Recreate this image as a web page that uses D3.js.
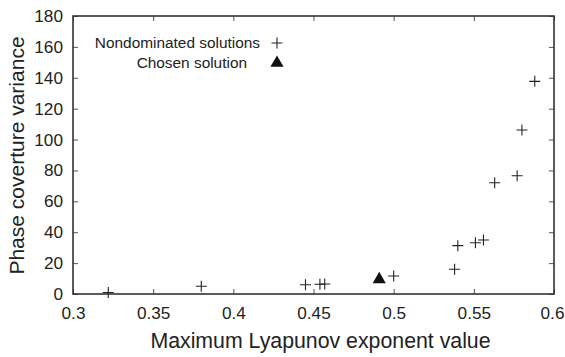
<!DOCTYPE html>
<html><head><meta charset="utf-8">
<script src="https://cdn.jsdelivr.net/npm/d3@7"></script>
<style>body{margin:0;background:#fff}svg{display:block}text{font-family:"Liberation Sans",Arial,sans-serif;fill:#222}</style>
</head><body><svg id="c" width="565" height="357"></svg>
<script>
const lyapunov = [0.322,0.380,0.445,0.454,0.457,0.500,0.538,0.540,0.551,0.556,0.563,0.577,0.580,0.588];
const variance = [1,5,6,6.3,6.5,11.7,16,31.3,33.2,35,72,76.6,106.2,137.7];
const chosenX = [0.491];
const chosenY = [9.5];
const xTicks = [0.3,0.35,0.4,0.45,0.5,0.55,0.6];
const yTicks = [0,20,40,60,80,100,120,140,160,180];
const legendLabels = ["Nondominated solutions","Chosen solution"];

const svg = d3.select("#c");
const L=73,R=554,T=16,B=294;
const x = d3.scaleLinear().domain([0.3,0.6]).range([L,R]);
const y = d3.scaleLinear().domain([0,180]).range([B,T]);
const fmt = d => String(d);

const xb = svg.append("g").attr("transform",`translate(0,${B})`)
  .call(d3.axisBottom(x).tickValues(xTicks).tickFormat(fmt).tickSizeInner(-5).tickSizeOuter(0).tickPadding(13));
svg.append("g").attr("transform",`translate(0,${T})`)
  .call(d3.axisTop(x).tickValues(xTicks).tickFormat("").tickSizeInner(-5).tickSizeOuter(0));
svg.append("g").attr("transform",`translate(${L},0)`)
  .call(d3.axisLeft(y).tickValues(yTicks).tickFormat(fmt).tickSizeInner(-5).tickSizeOuter(0).tickPadding(10));
svg.append("g").attr("transform",`translate(${R},0)`)
  .call(d3.axisRight(y).tickValues(yTicks).tickFormat("").tickSizeInner(-5).tickSizeOuter(0));
svg.selectAll(".domain").remove();
svg.selectAll(".tick line").attr("stroke","#555").attr("stroke-width",1);
svg.selectAll(".tick text").style("font-size","17.2px").attr("fill","#222");
xb.selectAll(".tick text").filter(d=>d===0.6).attr("dx","-2");
svg.append("rect").attr("x",L).attr("y",T).attr("width",R-L).attr("height",B-T)
  .attr("fill","none").attr("stroke","#333").attr("stroke-width",1.6);

const plus = (g,cx,cy,s)=>{
  g.append("path").attr("d",`M${cx-s},${cy}H${cx+s}M${cx},${cy-s}V${cy+s}`)
   .attr("stroke","#222").attr("stroke-width",1.1).attr("fill","none");
};
const pts = svg.append("g");
lyapunov.forEach((v,i)=>plus(pts,x(v),y(variance[i]),5.5));
const tri = d3.symbol().type(d3.symbolTriangle).size(75);
chosenX.forEach((v,i)=>svg.append("path").attr("d",tri()).attr("transform",`translate(${x(v)},${y(chosenY[i])})`).attr("fill","#111"));

// legend
svg.append("text").attr("x",260).attr("y",47.5).attr("text-anchor","end").style("font-size","15.4px").text(legendLabels[0]);
plus(svg,277,43,5.5);
svg.append("text").attr("x",247).attr("y",67.5).attr("text-anchor","end").style("font-size","15.4px").text(legendLabels[1]);
svg.append("path").attr("d",tri()).attr("transform",`translate(277,63)`).attr("fill","#111");

svg.append("text").attr("x",(L+R)/2+7).attr("y",348).attr("text-anchor","middle").style("font-size","21.3px").text("Maximum Lyapunov exponent value");
svg.append("text").attr("transform",`translate(23.5,155.5) rotate(-90)`).attr("text-anchor","middle").style("font-size","21px").text("Phase coverture variance");
</script></body></html>
